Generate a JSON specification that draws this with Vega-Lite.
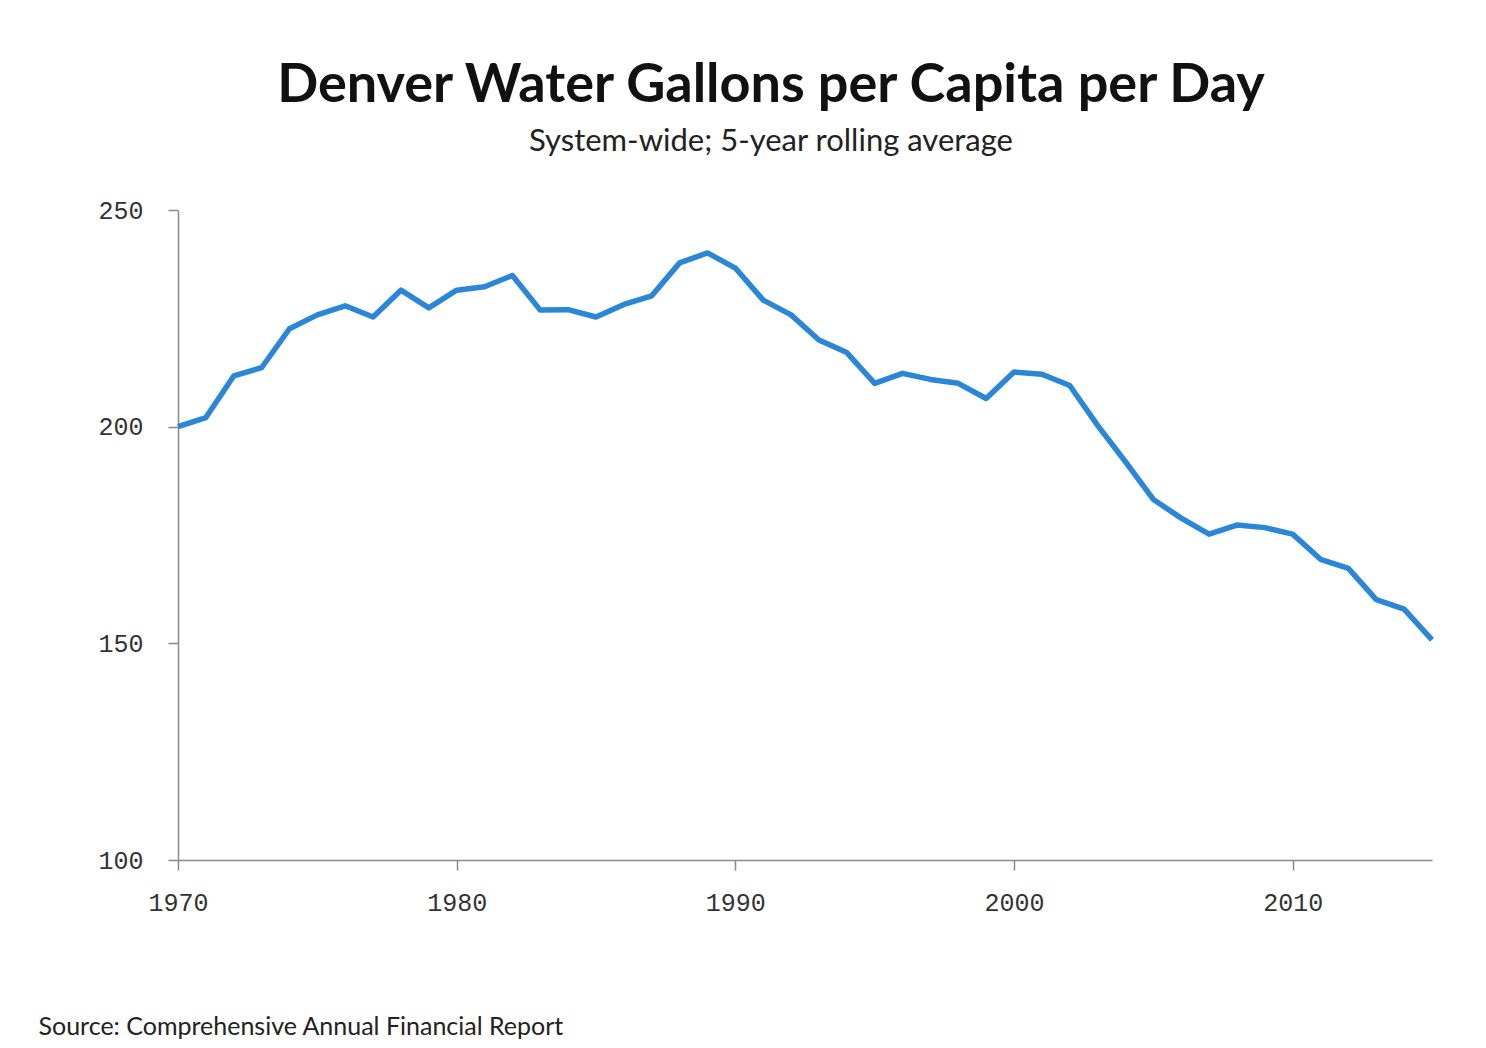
{
  "$schema": "https://vega.github.io/schema/vega-lite/v6.json",
  "autosize": "none",
  "width": 1254,
  "height": 650,
  "padding": {"left": 178, "top": 210, "right": 54, "bottom": 188},
  "background": "white",
  "title": {
    "text": "Denver Water Gallons per Capita per Day",
    "subtitle": "System-wide; 5-year rolling average",
    "anchor": "middle",
    "dx": -34,
    "offset": 41,
    "font": "Lato",
    "fontSize": 54,
    "fontWeight": "bold",
    "color": "#111111",
    "subtitleFont": "Lato",
    "subtitleFontSize": 31,
    "subtitleColor": "#222222",
    "subtitlePadding": 14
  },
  "config": {
    "view": {"stroke": null},
    "axis": {
      "grid": false,
      "domainColor": "#8a8a8a",
      "domainWidth": 1.5,
      "tickColor": "#8a8a8a",
      "tickWidth": 1.5,
      "tickSize": 10,
      "labelFont": "Liberation Mono",
      "labelFontSize": 25,
      "labelColor": "#333333",
      "labelFlush": false
    }
  },
  "data": {
    "values": [
      {"year": 1970, "gpcd": 200.0},
      {"year": 1971, "gpcd": 202.1},
      {"year": 1972, "gpcd": 211.7},
      {"year": 1973, "gpcd": 213.6},
      {"year": 1974, "gpcd": 222.6},
      {"year": 1975, "gpcd": 225.8},
      {"year": 1976, "gpcd": 227.9},
      {"year": 1977, "gpcd": 225.3},
      {"year": 1978, "gpcd": 231.5},
      {"year": 1979, "gpcd": 227.4},
      {"year": 1980, "gpcd": 231.5},
      {"year": 1981, "gpcd": 232.3},
      {"year": 1982, "gpcd": 234.9},
      {"year": 1983, "gpcd": 226.9},
      {"year": 1984, "gpcd": 227.0},
      {"year": 1985, "gpcd": 225.3},
      {"year": 1986, "gpcd": 228.2},
      {"year": 1987, "gpcd": 230.2},
      {"year": 1988, "gpcd": 237.8},
      {"year": 1989, "gpcd": 240.1},
      {"year": 1990, "gpcd": 236.6},
      {"year": 1991, "gpcd": 229.2},
      {"year": 1992, "gpcd": 225.8},
      {"year": 1993, "gpcd": 220.0},
      {"year": 1994, "gpcd": 217.1},
      {"year": 1995, "gpcd": 210.0},
      {"year": 1996, "gpcd": 212.3},
      {"year": 1997, "gpcd": 210.9},
      {"year": 1998, "gpcd": 210.0},
      {"year": 1999, "gpcd": 206.5},
      {"year": 2000, "gpcd": 212.6},
      {"year": 2001, "gpcd": 212.1},
      {"year": 2002, "gpcd": 209.5},
      {"year": 2003, "gpcd": 200.3},
      {"year": 2004, "gpcd": 191.9},
      {"year": 2005, "gpcd": 183.2},
      {"year": 2006, "gpcd": 178.9},
      {"year": 2007, "gpcd": 175.2},
      {"year": 2008, "gpcd": 177.3},
      {"year": 2009, "gpcd": 176.7},
      {"year": 2010, "gpcd": 175.2},
      {"year": 2011, "gpcd": 169.4},
      {"year": 2012, "gpcd": 167.3},
      {"year": 2013, "gpcd": 160.1},
      {"year": 2014, "gpcd": 157.9},
      {"year": 2015, "gpcd": 150.8}
    ]
  },
  "mark": {"type": "line", "color": "#2b87d6", "strokeWidth": 5.5, "strokeJoin": "round", "strokeCap": "butt"},
  "encoding": {
    "x": {
      "field": "year",
      "type": "quantitative",
      "scale": {"domain": [1970, 2015], "nice": false, "zero": false},
      "axis": {
        "values": [1970, 1980, 1990, 2000, 2010],
        "format": "d",
        "labelPadding": 20,
        "title": "Source: Comprehensive Annual Financial Report",
        "titleAnchor": "start",
        "titleAlign": "left",
        "titleBaseline": "alphabetic",
        "titleX": -140,
        "titleY": 174,
        "titleFont": "Lato",
        "titleFontSize": 25,
        "titleFontWeight": "normal",
        "titleColor": "#222222"
      }
    },
    "y": {
      "field": "gpcd",
      "type": "quantitative",
      "scale": {"domain": [100, 250], "nice": false, "zero": false},
      "axis": {
        "values": [100, 150, 200, 250],
        "labelPadding": 25,
        "title": null
      }
    }
  }
}
